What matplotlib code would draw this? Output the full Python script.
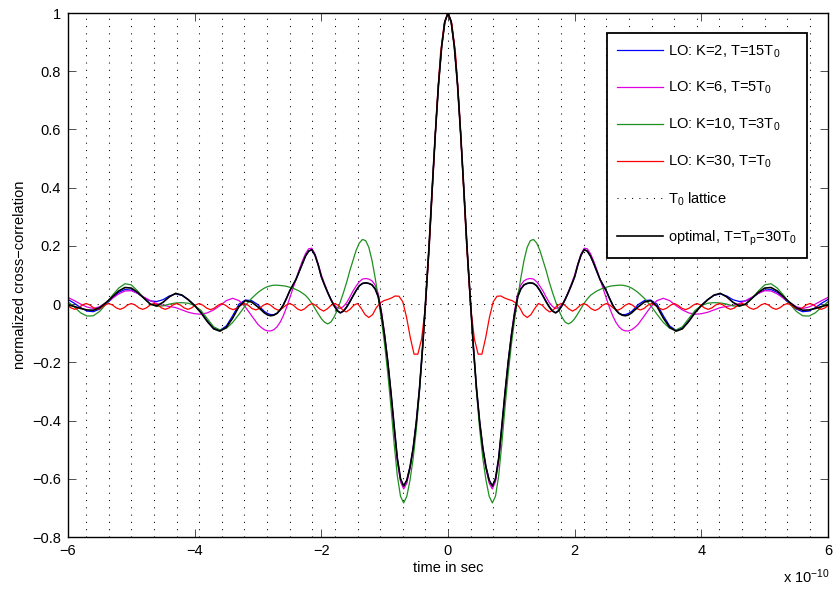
import numpy as np
import matplotlib
matplotlib.use('Agg')
import matplotlib.pyplot as plt

plt.rcParams['font.family'] = ['Liberation Sans', 'DejaVu Sans']
plt.rcParams['mathtext.fontset'] = 'custom'
plt.rcParams['mathtext.rm'] = 'Liberation Sans'
plt.rcParams['mathtext.it'] = 'Liberation Sans:italic'
plt.rcParams['axes.unicode_minus'] = True

# time axis in units of 1e-10 s, one half only (the correlations are even)
T0 = 10 / 28.0
t_main = np.r_[np.arange(60) * 0.05, 3.0 + np.arange(31) * 0.1]
t_red = np.arange(102) * T0 / 6

black = [1.000, 0.970, 0.885, 0.755, 0.585, 0.395, 0.195, 0.022, -0.145, -0.290,
         -0.405, -0.495, -0.560, -0.605, -0.625, -0.600, -0.530, -0.420, -0.305, -0.200,
         -0.110, -0.035, 0.025, 0.052, 0.066, 0.071, 0.073, 0.071, 0.063, 0.047,
         0.028, 0.008, -0.010, -0.024, -0.030, -0.022, -0.005, 0.016, 0.040, 0.066,
         0.094, 0.135, 0.168, 0.187, 0.182, 0.165, 0.140, 0.112, 0.085, 0.065,
         0.045, 0.020, -0.003, -0.020, -0.032, -0.038, -0.040, -0.037, -0.030, -0.020,
         -0.010, 0.007, 0.012, -0.008, -0.048, -0.080, -0.093, -0.085, -0.060, -0.030,
         -0.005, 0.015, 0.031, 0.037, 0.025, 0.006, -0.006, 0.000, 0.020, 0.040,
         0.055, 0.057, 0.045, 0.025, 0.005, -0.012, -0.021, -0.020, -0.015, -0.008,
         -0.003]

blue = [1.000, 0.970, 0.885, 0.755, 0.585, 0.395, 0.195, 0.022, -0.145, -0.290,
        -0.405, -0.495, -0.560, -0.605, -0.625, -0.600, -0.530, -0.420, -0.305, -0.200,
        -0.110, -0.035, 0.025, 0.052, 0.066, 0.071, 0.073, 0.071, 0.063, 0.047,
        0.028, 0.008, -0.010, -0.024, -0.030, -0.022, -0.005, 0.016, 0.040, 0.066,
        0.094, 0.135, 0.168, 0.187, 0.182, 0.165, 0.140, 0.112, 0.085, 0.065,
        0.045, 0.020, -0.003, -0.020, -0.031, -0.036, -0.036, -0.032, -0.025, -0.014,
        -0.002, 0.012, 0.014, 0.000, -0.040, -0.075, -0.090, -0.083, -0.058, -0.028,
        -0.004, 0.015, 0.030, 0.035, 0.028, 0.015, 0.009, 0.011, 0.022, 0.037,
        0.048, 0.050, 0.040, 0.020, 0.000, -0.017, -0.026, -0.024, -0.012, 0.003,
        0.016]

magenta = [1.000, 0.970, 0.885, 0.755, 0.585, 0.395, 0.195, 0.022, -0.145, -0.290,
           -0.405, -0.497, -0.565, -0.615, -0.635, -0.610, -0.540, -0.430, -0.310, -0.200,
           -0.105, -0.025, 0.035, 0.065, 0.080, 0.086, 0.088, 0.086, 0.077, 0.062,
           0.045, 0.024, 0.005, -0.008, -0.015, -0.012, -0.002, 0.017, 0.042, 0.070,
           0.100, 0.138, 0.172, 0.192, 0.190, 0.173, 0.148, 0.118, 0.085, 0.052,
           0.020, -0.012, -0.040, -0.062, -0.078, -0.088, -0.092, -0.092, -0.088, -0.080,
           -0.070, -0.040, -0.010, 0.012, 0.020, 0.012, -0.005, -0.020, -0.030, -0.035,
           -0.033, -0.028, -0.020, -0.012, -0.008, -0.004, 0.002, 0.012, 0.024, 0.037,
           0.046, 0.045, 0.035, 0.020, 0.005, -0.009, -0.015, -0.010, 0.000, 0.012,
           0.023]

green = [1.000, 0.970, 0.885, 0.755, 0.585, 0.395, 0.195, 0.020, -0.150, -0.300,
         -0.430, -0.530, -0.605, -0.660, -0.683, -0.660, -0.590, -0.480, -0.355, -0.240,
         -0.140, -0.055, 0.020, 0.090, 0.150, 0.195, 0.218, 0.222, 0.210, 0.185,
         0.150, 0.115, 0.075, 0.040, 0.008, -0.022, -0.045, -0.062, -0.068, -0.062,
         -0.050, -0.033, -0.015, 0.003, 0.018, 0.030, 0.038, 0.045, 0.050, 0.055,
         0.058, 0.061, 0.063, 0.064, 0.065, 0.065, 0.063, 0.060, 0.055, 0.048,
         0.040, 0.020, -0.005, -0.035, -0.063, -0.083, -0.089, -0.078, -0.050, -0.022,
         -0.005, 0.003, 0.005, 0.004, 0.000, -0.006, -0.008, 0.000, 0.020, 0.045,
         0.066, 0.070, 0.055, 0.030, 0.000, -0.025, -0.040, -0.041, -0.030, -0.010,
         0.008]

red = [1.000, 0.965, 0.860, 0.670, 0.430, 0.190, -0.010, -0.120, -0.172, -0.172,
       -0.115, -0.045, 0.008, 0.027, 0.028, 0.021, 0.016, 0.012, 0.004, -0.012,
       -0.036, -0.046, -0.036, -0.015,
       0.002, -0.004, -0.018, -0.027, -0.019, -0.005,
       0.002, -0.004, -0.016, -0.024, -0.017, -0.005,
       0.002, -0.004, -0.016, -0.022, -0.016, -0.004,
       0.002, -0.004, -0.015, -0.021, -0.015, -0.004,
       0.002, -0.004, -0.015, -0.020, -0.015, -0.004,
       0.002, -0.004, -0.014, -0.019, -0.014, -0.004,
       0.002, -0.004, -0.014, -0.019, -0.014, -0.004,
       0.002, -0.003, -0.013, -0.018, -0.013, -0.003,
       0.002, -0.003, -0.013, -0.018, -0.013, -0.003,
       0.002, -0.003, -0.013, -0.018, -0.013, -0.003,
       0.002, -0.003, -0.013, -0.018, -0.013, -0.003,
       0.002, -0.003, -0.013, -0.018, -0.013, -0.003,
       0.002, -0.003, -0.013, -0.018, -0.013, -0.003]

labels = ['LO: K=2, T=15T$_0$', 'LO: K=6, T=5T$_0$', 'LO: K=10, T=3T$_0$',
          'LO: K=30, T=T$_0$', 'T$_0$ lattice', r'optimal, T=T$_\mathrm{p}$=30T$_0$']


def mirror(t, v):
    t = np.asarray(t)
    v = np.asarray(v)
    return np.r_[-t[:0:-1], t], np.r_[v[:0:-1], v]


def fmt(v, pos):
    if abs(v) < 1e-9:
        return '0'
    return ('%g' % v).replace('-', '\u2212')


fig = plt.figure(figsize=(8.4, 5.89), dpi=100)
ax = fig.add_axes([68 / 840, 1 - 537 / 589, 760 / 840, 524 / 589])

dots = (0, (1, 6))
lattice = np.arange(-16, 17) * T0
for x in lattice:
    ax.axvline(x, color='k', lw=0.75, ls=dots, zorder=1)
ax.axhline(0, color='k', lw=0.75, ls=dots, zorder=1)

lw = 0.9
h1, = ax.plot(*mirror(t_main, blue), color='#0000ff', lw=lw)
h2, = ax.plot(*mirror(t_main, magenta), color='#e000e0', lw=lw)
h3, = ax.plot(*mirror(t_main, green), color='#1f8f1f', lw=lw)
h4, = ax.plot(*mirror(t_red, red), color='#ff0000', lw=lw)
h5, = ax.plot([], [], color='k', lw=0.75, ls=dots)
h6, = ax.plot(*mirror(t_main, black), color='k', lw=1.2)

ax.set_xlim(-6, 6)
ax.set_ylim(-0.8, 1)
ax.set_xticks(np.arange(-6, 7, 2))
ax.set_yticks(np.arange(-0.8, 1.01, 0.2))
ax.xaxis.set_major_formatter(plt.FuncFormatter(fmt))
ax.yaxis.set_major_formatter(plt.FuncFormatter(fmt))
ax.tick_params(direction='in', top=True, right=True, length=6, width=0.6,
               labelsize=10.5, pad=5, color='#333333')
for s in ax.spines.values():
    s.set_linewidth(1.0)

ax.set_xlabel('time in sec', fontsize=10.5, labelpad=2)
ax.set_ylabel('normalized cross\u2212correlation', fontsize=10.5, labelpad=4)
fig.text(783 / 840, 1 - 583 / 589, 'x 10$^{\u221210}$', fontsize=10.5, ha='left', va='baseline')

leg = ax.legend([h1, h2, h3, h4, h5, h6], labels, loc='upper right',
                bbox_to_anchor=((807 - 68) / 760, (537 - 33) / 524), borderaxespad=0,
                fontsize=10.5, handlelength=3.1, handletextpad=0.35, labelspacing=1.4,
                borderpad=0.7, fancybox=False, framealpha=1, edgecolor='k')
leg.get_frame().set_linewidth(1.3)

fig.savefig('out.png', dpi=100)
